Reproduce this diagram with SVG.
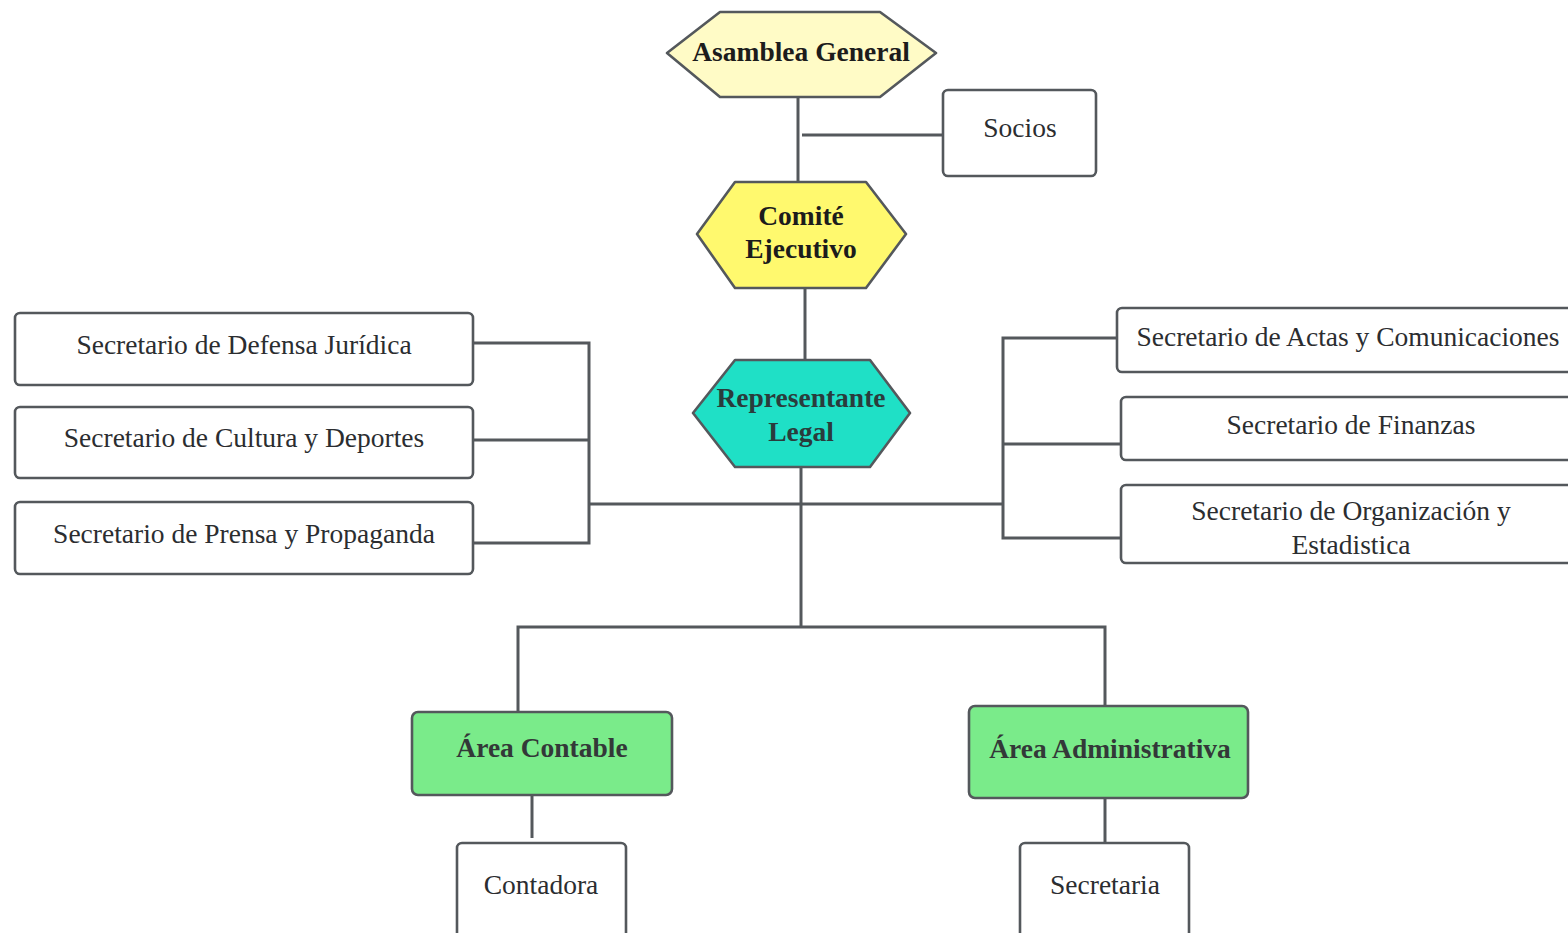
<svg xmlns="http://www.w3.org/2000/svg" width="1568" height="933" viewBox="0 0 1568 933">
<style>
  .ln { stroke: #54585c; stroke-width: 3; fill: none; }
  .box { fill: #ffffff; stroke: #54585c; stroke-width: 2.6; }
  .green { fill: #7aeb8a; stroke: #54585c; stroke-width: 2.6; }
  .hex { stroke: #54585c; stroke-width: 2.6; stroke-linejoin: round; }
  .t { font-family: "Liberation Serif", "Times New Roman", serif; font-size: 27.5px; fill: #2b2d30; text-anchor: middle; }
  .b { font-family: "Liberation Serif", "Times New Roman", serif; font-size: 27.5px; font-weight: bold; text-anchor: middle; }
</style>
<rect width="1568" height="933" fill="#ffffff"/>

<g id="connectors">
  <path class="ln" d="M798 97 V190"/>
  <path class="ln" d="M802 135 H943"/>
  <path class="ln" d="M805 288 V360"/>
  <path class="ln" d="M801 467 V627"/>
  <path class="ln" d="M589 504 H1003"/>
  <path class="ln" d="M473 343 H589 V543 H473"/>
  <path class="ln" d="M473 440 H589"/>
  <path class="ln" d="M1117 338 H1003 V538 H1121"/>
  <path class="ln" d="M1003 444 H1121"/>
  <path class="ln" d="M518 711 V627 H1105 V706"/>
  <path class="ln" d="M532 795 V838"/>
  <path class="ln" d="M1105 798 V843"/>
</g>

<g id="asamblea">
  <polygon class="hex" fill="#fffbc6" points="667,53 720,12 880,12 936,53 880,97 720,97"/>
  <text class="b" x="801" y="61" fill="#1c1c1c">Asamblea General</text>
</g>

<g id="socios">
  <rect class="box" x="943" y="90" width="153" height="86" rx="5"/>
  <text class="t" x="1020" y="137">Socios</text>
</g>

<g id="comite">
  <polygon class="hex" fill="#fff96e" points="697,234 735,182 866,182 906,234 866,288 735,288"/>
  <text class="b" x="801" y="225" fill="#1c1c1c">Comité</text>
  <text class="b" x="801" y="258" fill="#1c1c1c">Ejecutivo</text>
</g>

<g id="representante">
  <polygon class="hex" fill="#1fe0c6" points="693,413 735,360 870,360 910,413 870,467 735,467"/>
  <text class="b" x="801" y="407" fill="#2a3c3c">Representante</text>
  <text class="b" x="801" y="441" fill="#2a3c3c">Legal</text>
</g>

<g id="sec-defensa">
  <rect class="box" x="15" y="313" width="458" height="72" rx="5"/>
  <text class="t" x="244" y="354">Secretario de Defensa Jurídica</text>
</g>
<g id="sec-cultura">
  <rect class="box" x="15" y="407" width="458" height="71" rx="5"/>
  <text class="t" x="244" y="447">Secretario de Cultura y Deportes</text>
</g>
<g id="sec-prensa">
  <rect class="box" x="15" y="502" width="458" height="72" rx="5"/>
  <text class="t" x="244" y="543">Secretario de Prensa y Propaganda</text>
</g>

<g id="sec-actas">
  <rect class="box" x="1117" y="308" width="470" height="64" rx="5"/>
  <text class="t" x="1348" y="346">Secretario de Actas y Comunicaciones</text>
</g>
<g id="sec-finanzas">
  <rect class="box" x="1121" y="397" width="466" height="63" rx="5"/>
  <text class="t" x="1351" y="434">Secretario de Finanzas</text>
</g>
<g id="sec-organizacion">
  <rect class="box" x="1121" y="485" width="466" height="78" rx="5"/>
  <text class="t" x="1351" y="520">Secretario de Organización y</text>
  <text class="t" x="1351" y="554">Estadistica</text>
</g>

<g id="area-contable">
  <rect class="green" x="412" y="712" width="260" height="83" rx="6"/>
  <text class="b" x="542" y="757" fill="#333838">Área Contable</text>
</g>
<g id="area-administrativa">
  <rect class="green" x="969" y="706" width="279" height="92" rx="6"/>
  <text class="b" x="1110" y="758" fill="#333838">Área Administrativa</text>
</g>

<g id="contadora">
  <rect class="box" x="457" y="843" width="169" height="110" rx="5"/>
  <text class="t" x="541" y="894">Contadora</text>
</g>
<g id="secretaria">
  <rect class="box" x="1020" y="843" width="169" height="110" rx="5"/>
  <text class="t" x="1105" y="894">Secretaria</text>
</g>
</svg>
